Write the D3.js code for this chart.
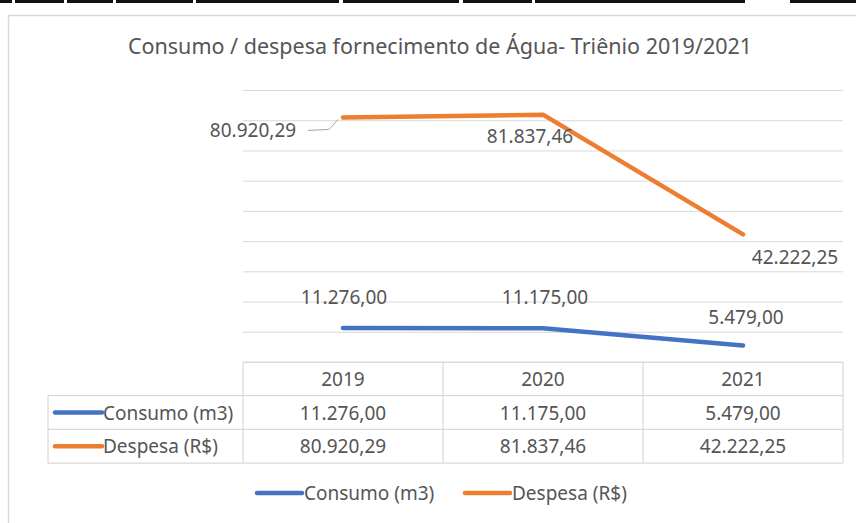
<!DOCTYPE html>
<html>
<head>
<meta charset="utf-8">
<script src="https://cdn.jsdelivr.net/npm/d3@7"></script>
<style>
  body { margin: 0; background: #fff; }
  text { font-family: 'Noto Sans', sans-serif; fill: #555; }
</style>
</head>
<body>
<div id="chart"></div>
<script>
const years = ['2019', '2020', '2021']
const consumo = [11276.0, 11175.0, 5479.0]
const despesa = [80920.29, 81837.46, 42222.25]
const seriesNames = ['Consumo (m3)', 'Despesa (R$)']
const seriesColors = ['#4472c4', '#ed7d31']
const yTicks = [0, 10000, 20000, 30000, 40000, 50000, 60000, 70000, 80000, 90000]

// where Excel put the data labels, relative to each point
const labelOffsets = [
  [[1, -31], [2, -31], [3, -28]],
  [[-90, 13], [-13, 21], [52, 23]]
]

const width = 856
const height = 523
const margin = { top: 90, left: 243, right: 13, bottom: 161 }
const fontSize = '19px'

const svg = d3
  .select('#chart')
  .append('svg')
  .attr('width', width)
  .attr('height', height)

// bits of the page above the chart
const topBars = [[0, 12], [15, 64], [67, 113], [116, 193], [196, 339], [343, 459], [463, 532], [535, 745], [790, 856]]
svg
  .selectAll('.top-bar')
  .data(topBars)
  .enter()
  .append('rect')
  .attr('x', d => d[0])
  .attr('y', 0)
  .attr('width', d => d[1] - d[0])
  .attr('height', 3)
  .attr('fill', '#111')

// chart area border
svg
  .append('rect')
  .attr('x', 8.5)
  .attr('y', 15.5)
  .attr('width', 870)
  .attr('height', 520)
  .attr('fill', 'none')
  .attr('stroke', '#d9d9d9')
  .attr('stroke-width', 1.5)

svg
  .append('text')
  .attr('x', 440)
  .attr('y', 54)
  .attr('text-anchor', 'middle')
  .style('font-size', '21.5px')
  .text('Consumo / despesa fornecimento de Água- Triênio 2019/2021')

const plotW = width - margin.left - margin.right
const plotH = height - margin.top - margin.bottom

const xScale = d3.scaleBand().domain(years).range([margin.left, margin.left + plotW])
const yScale = d3.scaleLinear().domain([0, 90000]).range([margin.top + plotH, margin.top])

// gridlines
svg
  .append('g')
  .attr('class', 'grid')
  .attr('transform', `translate(${margin.left},0)`)
  .call(d3.axisLeft(yScale).tickValues(yTicks).tickSize(-plotW).tickFormat(''))
  .call(g => g.select('.domain').remove())
  .call(g => g.selectAll('line').attr('stroke', '#d9d9d9').attr('stroke-width', 1))

const ptBR = d3.formatLocale({ decimal: ',', thousands: '.', grouping: [3], currency: ['R$', ''] })
const fmt = ptBR.format(',.2f')

const allSeries = [consumo, despesa]
const cx = d => xScale(d) + xScale.bandwidth() / 2

const line = d3
  .line()
  .x((d, i) => cx(years[i]))
  .y(d => yScale(d))

allSeries.forEach((values, s) => {
  svg
    .append('path')
    .datum(values)
    .attr('d', line)
    .attr('fill', 'none')
    .attr('stroke', seriesColors[s])
    .attr('stroke-width', 4.5)
    .attr('stroke-linejoin', 'round')
    .attr('stroke-linecap', 'round')

  svg
    .selectAll('.label-' + s)
    .data(values)
    .enter()
    .append('text')
    .attr('class', 'label-' + s)
    .attr('x', (d, i) => cx(years[i]) + labelOffsets[s][i][0])
    .attr('y', (d, i) => yScale(d) + labelOffsets[s][i][1])
    .attr('text-anchor', 'middle')
    .attr('dominant-baseline', 'central')
    .style('font-size', fontSize)
    .text(d => fmt(d))
})

// leader line for the first orange label
svg
  .append('path')
  .attr('d', `M${cx(years[0]) - 35},${yScale(despesa[0]) + 13} L${cx(years[0]) - 14},${yScale(despesa[0]) + 12} L${cx(years[0]) - 5},${yScale(despesa[0]) + 2}`)
  .attr('fill', 'none')
  .attr('stroke', '#a6a6a6')
  .attr('stroke-width', 1)

// data table
const tableTop = margin.top + plotH
const rowH = 33.7
const tableLeft = 48
const tableRight = margin.left + plotW
const grid = svg.append('g').attr('stroke', '#d9d9d9').attr('stroke-width', 1.2)

grid.append('line').attr('x1', margin.left).attr('x2', tableRight).attr('y1', tableTop).attr('y2', tableTop)
;[1, 2, 3].forEach(r => {
  grid
    .append('line')
    .attr('x1', tableLeft)
    .attr('x2', tableRight)
    .attr('y1', tableTop + r * rowH)
    .attr('y2', tableTop + r * rowH)
})
grid
  .append('line')
  .attr('x1', tableLeft)
  .attr('x2', tableLeft)
  .attr('y1', tableTop + rowH)
  .attr('y2', tableTop + 3 * rowH)
grid
  .selectAll('.col')
  .data(years.concat(['end']))
  .enter()
  .append('line')
  .attr('x1', (d, i) => margin.left + i * xScale.bandwidth())
  .attr('x2', (d, i) => margin.left + i * xScale.bandwidth())
  .attr('y1', tableTop)
  .attr('y2', tableTop + 3 * rowH)

svg
  .selectAll('.year')
  .data(years)
  .enter()
  .append('text')
  .attr('x', d => cx(d))
  .attr('y', tableTop + rowH / 2)
  .attr('text-anchor', 'middle')
  .attr('dominant-baseline', 'central')
  .style('font-size', fontSize)
  .text(d => d)

allSeries.forEach((values, s) => {
  const rowY = tableTop + (s + 1.5) * rowH
  svg
    .append('line')
    .attr('x1', 55)
    .attr('x2', 102)
    .attr('y1', rowY)
    .attr('y2', rowY)
    .attr('stroke', seriesColors[s])
    .attr('stroke-width', 4.5)
    .attr('stroke-linecap', 'round')
  svg
    .append('text')
    .attr('x', 103)
    .attr('y', rowY)
    .attr('dominant-baseline', 'central')
    .style('font-size', fontSize)
    .text(seriesNames[s])
  svg
    .selectAll('.cell-' + s)
    .data(values)
    .enter()
    .append('text')
    .attr('x', (d, i) => cx(years[i]))
    .attr('y', rowY)
    .attr('text-anchor', 'middle')
    .attr('dominant-baseline', 'central')
    .style('font-size', fontSize)
    .text(d => fmt(d))
})

// legend
const legendX = [257, 465]
const legendY = 493
seriesNames.forEach((name, s) => {
  svg
    .append('line')
    .attr('x1', legendX[s])
    .attr('x2', legendX[s] + 45)
    .attr('y1', legendY)
    .attr('y2', legendY)
    .attr('stroke', seriesColors[s])
    .attr('stroke-width', 4.5)
    .attr('stroke-linecap', 'round')
  svg
    .append('text')
    .attr('x', legendX[s] + 47)
    .attr('y', legendY)
    .attr('dominant-baseline', 'central')
    .style('font-size', fontSize)
    .text(name)
})
</script>
</body>
</html>
